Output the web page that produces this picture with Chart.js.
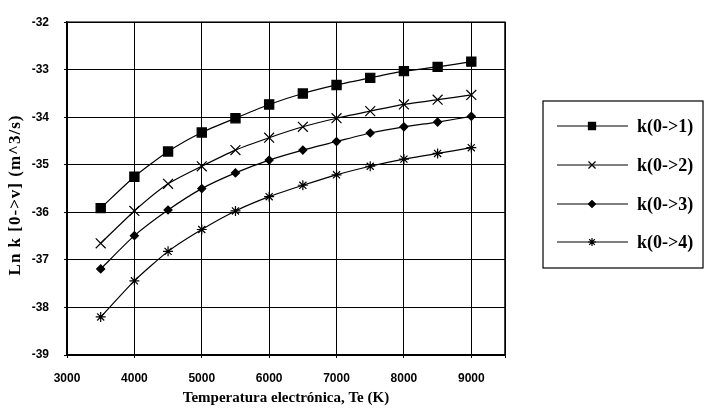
<!DOCTYPE html>
<html>
<head>
<meta charset="utf-8">
<script src="https://cdn.jsdelivr.net/npm/chart.js@4"></script>
<style>
  html, body { margin: 0; padding: 0; background: #fff; }
  #wrap { width: 705px; height: 415px; position: relative; }
</style>
</head>
<body>
<div id="wrap"><canvas id="rateChart"></canvas></div>
<script>
// Temperatura electronica (K)
const temps = [3500, 4000, 4500, 5000, 5500, 6000, 6500, 7000, 7500, 8000, 8500, 9000];

// Ln k values
const k01 = [-35.91, -35.25, -34.72, -34.32, -34.02, -33.73, -33.50, -33.32, -33.17, -33.03, -32.94, -32.83];
const k02 = [-36.65, -35.97, -35.40, -35.03, -34.69, -34.43, -34.20, -34.02, -33.87, -33.73, -33.63, -33.53];
const k03 = [-37.19, -36.49, -35.95, -35.50, -35.17, -34.90, -34.69, -34.51, -34.33, -34.20, -34.10, -33.98];
const k04 = [-38.20, -37.44, -36.82, -36.36, -35.97, -35.67, -35.43, -35.21, -35.03, -34.88, -34.76, -34.64];

const seriesNames = ['k(0->1)', 'k(0->2)', 'k(0->3)', 'k(0->4)'];
const xTicks = [3000, 4000, 5000, 6000, 7000, 8000, 9000];
const yTicks = [-39, -38, -37, -36, -35, -34, -33, -32];
const yTitle = 'Ln k [0->v] (m^3/s)';

const markerStyles = [
    { pointStyle: 'rect', radius: 6.5, legendRadius: 5, fill: true },
    { pointStyle: 'crossRot', radius: 7, legendRadius: 5, fill: false },
    { pointStyle: 'rectRot', radius: 4, legendRadius: 3.5, fill: true },
    { pointStyle: 'star', radius: 5, legendRadius: 4, fill: false }
];

function makeDataset(name, values, idx) {
    const m = markerStyles[idx];
    return {
        label: name,
        data: temps.map((t, i) => ({ x: t, y: values[i] })),
        borderColor: '#000',
        backgroundColor: '#000',
        borderWidth: 1.2,
        pointStyle: m.pointStyle,
        pointRadius: m.radius,
        pointBorderWidth: 1.2,
        pointBackgroundColor: m.fill ? '#000' : '#fff',
        pointBorderColor: '#000',
        tension: 0.2,
        fill: false
    };
}

// frame round the plot area + spaced-out y title
const frameAndTitle = {
    id: 'frameAndTitle',
    afterDraw(chart) {
        const a = chart.chartArea;
        const c = chart.ctx;
        c.save();
        c.strokeStyle = '#000';
        c.lineWidth = 1.5;
        c.strokeRect(a.left, a.top, a.right - a.left, a.bottom - a.top);
        c.translate(16, 195);
        c.rotate(-Math.PI / 2);
        c.font = 'bold 17px "Liberation Serif", serif';
        c.letterSpacing = '1px';
        c.textAlign = 'center';
        c.textBaseline = 'middle';
        c.fillStyle = '#000';
        c.fillText(yTitle, 0, 0);
        c.restore();
    }
};

// box legend on the right, line + marker + label like the original
const boxLegend = {
    id: 'boxLegend',
    afterDraw(chart) {
        const c = chart.ctx;
        const box = { left: 543, top: 101, right: 703, bottom: 268 };
        const rowY = [126, 165, 204, 242];
        c.save();
        c.strokeStyle = '#000';
        c.lineWidth = 1.2;
        c.strokeRect(box.left, box.top, box.right - box.left, box.bottom - box.top);
        c.font = 'bold 18px "Liberation Serif", serif';
        c.textBaseline = 'middle';
        chart.data.datasets.forEach((ds, i) => {
            const y = rowY[i];
            c.beginPath();
            c.lineWidth = 1.2;
            c.strokeStyle = '#000';
            c.moveTo(557, y);
            c.lineTo(628, y);
            c.stroke();
            c.fillStyle = ds.pointBackgroundColor;
            Chart.helpers.drawPoint(c, {
                pointStyle: ds.pointStyle,
                radius: markerStyles[i].legendRadius,
                borderWidth: 1.2,
                rotation: 0
            }, 592, y);
            c.fillStyle = '#000';
            c.fillText(seriesNames[i], 637, y + 1);
        });
        c.restore();
    }
};

const ctx = document.getElementById('rateChart');
new Chart(ctx, {
    type: 'line',
    data: {
        datasets: [
            makeDataset(seriesNames[0], k01, 0),
            makeDataset(seriesNames[1], k02, 1),
            makeDataset(seriesNames[2], k03, 2),
            makeDataset(seriesNames[3], k04, 3)
        ]
    },
    options: {
        responsive: true,
        maintainAspectRatio: false,
        animation: false,
        layout: {
            padding: { top: 15, right: 200, left: 0, bottom: 0 }
        },
        plugins: {
            legend: { display: false },
            tooltip: { enabled: false }
        },
        scales: {
            x: {
                type: 'linear',
                min: 3000,
                max: 9500,
                afterFit: function(scale) { scale.height = 60; },
                afterBuildTicks: function(scale) {
                    scale.ticks = xTicks.concat([9500]).map(v => ({ value: v }));
                },
                grid: { color: '#000', lineWidth: 1, drawTicks: true, tickLength: 3 },
                border: { color: '#000', width: 1.5 },
                ticks: {
                    color: '#000',
                    padding: 13,
                    maxRotation: 0,
                    font: { size: 12, weight: 'bold', family: '"Liberation Sans", Arial, sans-serif' },
                    callback: function(value) {
                        return xTicks.includes(value) ? String(value) : '';
                    }
                },
                title: {
                    display: true,
                    text: 'Temperatura electrónica, Te (K)',
                    color: '#000',
                    font: { size: 15, weight: 'bold', family: '"Liberation Serif", serif' },
                    padding: { top: 0, bottom: 8 }
                }
            },
            y: {
                min: -39,
                max: -32,
                afterFit: function(scale) { scale.width = 67; },
                afterBuildTicks: function(scale) {
                    scale.ticks = yTicks.map(v => ({ value: v }));
                },
                grid: { color: '#000', lineWidth: 1, drawTicks: true, tickLength: 3 },
                border: { color: '#000', width: 1.5 },
                ticks: {
                    color: '#000',
                    padding: 15,
                    font: { size: 12, weight: 'bold', family: '"Liberation Sans", Arial, sans-serif' }
                },
                title: { display: false }
            }
        }
    },
    plugins: [frameAndTitle, boxLegend]
});
</script>
</body>
</html>
